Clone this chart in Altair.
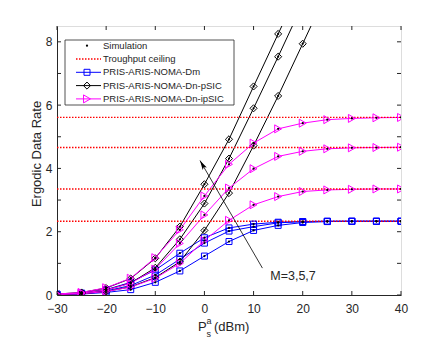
import altair as alt
import pandas as pd

# ---------------- data ----------------
x_vals = [-30, -25, -20, -15, -10, -5, 0, 5, 10, 15, 20, 25, 30, 35, 40]
M_names = ["M=3", "M=5", "M=7"]

# PRIS-ARIS-NOMA-Dm (blue)
dm_M3 = [0.01, 0.03, 0.08, 0.17, 0.40, 0.76, 1.23, 1.69, 2.04, 2.20, 2.29, 2.32, 2.33, 2.33, 2.33]
dm_M5 = [0.02, 0.05, 0.13, 0.30, 0.63, 1.13, 1.64, 2.02, 2.16, 2.28, 2.32, 2.33, 2.33, 2.33, 2.33]
dm_M7 = [0.03, 0.06, 0.17, 0.40, 0.79, 1.32, 1.81, 2.12, 2.24, 2.30, 2.32, 2.33, 2.33, 2.33, 2.33]

# PRIS-ARIS-NOMA-Dn-pSIC (black) - leaves the plot at the top
psic_M3 = [0.02, 0.04, 0.11, 0.26, 0.55, 1.05, 2.04, 3.22, 4.72, 6.29, 7.94, 9.60, None, None, None]
psic_M5 = [0.02, 0.06, 0.16, 0.38, 0.86, 1.76, 2.89, 4.31, 5.90, 7.53, 9.20, None, None, None, None]
psic_M7 = [0.03, 0.08, 0.22, 0.52, 1.16, 2.16, 3.50, 4.92, 6.59, 8.25, 9.90, None, None, None, None]

# PRIS-ARIS-NOMA-Dn-ipSIC (magenta)
ipsic_M3 = [0.02, 0.04, 0.11, 0.25, 0.53, 1.00, 1.72, 2.36, 2.85, 3.11, 3.27, 3.32, 3.34, 3.35, 3.35]
ipsic_M5 = [0.02, 0.06, 0.16, 0.37, 0.82, 1.63, 2.53, 3.38, 3.99, 4.38, 4.54, 4.62, 4.65, 4.66, 4.67]
ipsic_M7 = [0.03, 0.08, 0.23, 0.53, 1.18, 2.06, 3.13, 4.13, 4.80, 5.25, 5.43, 5.54, 5.58, 5.60, 5.61]

ceilings = [2.33, 3.35, 4.66, 5.61]

x_ticks = [-30, -20, -10, 0, 10, 20, 30, 40]
y_ticks = [0, 1, 2, 3, 4, 5, 6, 7, 8]
x_domain = [-30, 40]
y_domain = [0, 8.5]

legend_labels = ["Simulation", "Troughput ceiling", "PRIS-ARIS-NOMA-Dm",
                 "PRIS-ARIS-NOMA-Dn-pSIC", "PRIS-ARIS-NOMA-Dn-ipSIC"]

# annotation arrow (data units)
arrow_tail = (11.8, 0.85)
arrow_head = (-0.9, 4.25)
arrow_text = "M=3,5,7"
arrow_text_pos = (13.4, 0.6)

# ---------------- build tables ----------------
families = {
    "Dm": [dm_M3, dm_M5, dm_M7],
    "pSIC": [psic_M3, psic_M5, psic_M7],
    "ipSIC": [ipsic_M3, ipsic_M5, ipsic_M7],
}
rows = []
for fam, series in families.items():
    for m, vals in zip(M_names, series):
        for xv, yv in zip(x_vals, vals):
            if yv is not None:
                rows.append({"x": xv, "y": yv, "fam": fam, "M": m})
df = pd.DataFrame(rows)

W, H = 344, 269
AXC = "#262626"
FONT = "Liberation Sans"
BLUE, BLACK, MAG, RED = "#0000FF", "#000000", "#FF00FF", "#FF0000"

xs = alt.Scale(domain=x_domain, nice=False, zero=False)
ys = alt.Scale(domain=y_domain, nice=False, zero=False)

x_axis = alt.Axis(values=x_ticks, title=None, grid=False, tickSize=0,
                  labelPadding=8, labelFontSize=12, labelFont=FONT,
                  labelColor=AXC, domainColor=AXC, format="d",
                  labelFlush=False, labelOverlap=False)
y_axis = alt.Axis(values=y_ticks, title=None, grid=False, tickSize=0,
                  labelPadding=5, labelFontSize=12, labelFont=FONT,
                  labelColor=AXC, domainColor=AXC, format="d",
                  labelFlush=False, labelOverlap=False)

layers = []

# lines
styles = {
    "Dm": (BLUE, "square", 36),
    "pSIC": (BLACK, "diamond", 50),
    "ipSIC": (MAG, "triangle-right", 64),
}
first = True
for fam in ["Dm", "pSIC", "ipSIC"]:
    col, shp, sz = styles[fam]
    sub = df[df.fam == fam]
    if first:
        enc_x = alt.X("x:Q", scale=xs, axis=x_axis)
        enc_y = alt.Y("y:Q", scale=ys, axis=y_axis)
        first = False
    else:
        enc_x = alt.X("x:Q", scale=xs)
        enc_y = alt.Y("y:Q", scale=ys)
    layers.append(alt.Chart(sub).mark_line(color=col, strokeWidth=1, clip=True)
                  .encode(x=enc_x, y=enc_y, detail="M:N", order="x:Q"))

# ceilings
cdf = pd.DataFrame({"c": ceilings})
layers.append(alt.Chart(cdf).mark_rule(color=RED, strokeDash=[1.5, 1.5], strokeWidth=1.3)
              .encode(x=alt.value(0), x2=alt.value(W), y=alt.Y("c:Q", scale=ys)))

# markers
for fam in ["Dm", "pSIC", "ipSIC"]:
    col, shp, sz = styles[fam]
    sub = df[df.fam == fam]
    layers.append(alt.Chart(sub).mark_point(shape=shp, filled=False, color=col, size=sz,
                                            strokeWidth=1, opacity=1, clip=True)
                  .encode(x=alt.X("x:Q", scale=xs), y=alt.Y("y:Q", scale=ys)))
# simulation dots
layers.append(alt.Chart(df).mark_circle(color="black", size=5, opacity=1, clip=True)
              .encode(x=alt.X("x:Q", scale=xs), y=alt.Y("y:Q", scale=ys)))

# inward ticks (MATLAB style box)
xt = pd.DataFrame({"t": x_ticks})
yt = pd.DataFrame({"t": y_ticks})
TL = 4
layers.append(alt.Chart(xt).mark_rule(color=AXC, strokeWidth=1)
              .encode(x=alt.X("t:Q", scale=xs), y=alt.value(H), y2=alt.value(H - TL)))
layers.append(alt.Chart(xt).mark_rule(color=AXC, strokeWidth=1)
              .encode(x=alt.X("t:Q", scale=xs), y=alt.value(0), y2=alt.value(TL)))
layers.append(alt.Chart(yt).mark_rule(color=AXC, strokeWidth=1)
              .encode(y=alt.Y("t:Q", scale=ys), x=alt.value(0), x2=alt.value(TL)))
layers.append(alt.Chart(yt).mark_rule(color=AXC, strokeWidth=1)
              .encode(y=alt.Y("t:Q", scale=ys), x=alt.value(W), x2=alt.value(W - TL)))

# arrow annotation
adf = pd.DataFrame({"x0": [arrow_tail[0]], "y0": [arrow_tail[1]],
                    "x1": [arrow_head[0]], "y1": [arrow_head[1]]})
layers.append(alt.Chart(adf).mark_rule(color=BLACK, strokeWidth=0.8)
              .encode(x=alt.X("x0:Q", scale=xs), y=alt.Y("y0:Q", scale=ys),
                      x2="x1:Q", y2="y1:Q"))
layers.append(alt.Chart(adf).mark_point(shape="M0,0 L0.5,2 L0,1.6 L-0.5,2 Z", filled=True,
                                        color=BLACK, size=90, angle=330, opacity=1)
              .encode(x=alt.X("x1:Q", scale=xs), y=alt.Y("y1:Q", scale=ys)))
tdf = pd.DataFrame({"x": [arrow_text_pos[0]], "y": [arrow_text_pos[1]], "t": [arrow_text]})
layers.append(alt.Chart(tdf).mark_text(align="left", baseline="middle", fontSize=12.5,
                                       font=FONT, color=AXC)
              .encode(x=alt.X("x:Q", scale=xs), y=alt.Y("y:Q", scale=ys), text="t:N"))

# axis titles as text (sub/superscripts)
one = pd.DataFrame({"k": [0]})
def txt(s, x, y, size, **kw):
    return alt.Chart(one).mark_text(text=s, fontSize=size, font=FONT, color=AXC, **kw).encode(
        x=alt.value(x), y=alt.value(y))

layers.append(txt("P", 141, 305, 13, align="left", baseline="alphabetic"))
layers.append(txt("a", 149.5, 298, 9, align="left", baseline="alphabetic"))
layers.append(txt("s", 149.5, 311, 9, align="left", baseline="alphabetic"))
layers.append(txt("(dBm)", 157, 305, 13, align="left", baseline="alphabetic"))
layers.append(txt("Ergodic Data Rate", -16, 128, 13, align="center",
                  baseline="alphabetic", angle=270))

# legend
LX0, LX1, LY0, LY1 = 8, 177, 14, 79
layers.append(alt.Chart(one).mark_rect(fill="white", stroke=AXC, strokeWidth=0.8)
              .encode(x=alt.value(LX0), x2=alt.value(LX1), y=alt.value(LY0), y2=alt.value(LY1)))
ly = [19.7 + 13.3 * i for i in range(len(legend_labels))]
sx0, sx1, sxm, tx = 19, 44, 30, 46
# simulation
layers.append(alt.Chart(one).mark_circle(color="black", size=5, opacity=1)
              .encode(x=alt.value(sxm), y=alt.value(ly[0])))
# ceiling
layers.append(alt.Chart(one).mark_rule(color=RED, strokeDash=[1.5, 1.5], strokeWidth=1.3)
              .encode(x=alt.value(sx0), x2=alt.value(sx1), y=alt.value(ly[1])))
for i, fam in zip([2, 3, 4], ["Dm", "pSIC", "ipSIC"]):
    col, shp, sz = styles[fam]
    layers.append(alt.Chart(one).mark_rule(color=col, strokeWidth=1)
                  .encode(x=alt.value(sx0), x2=alt.value(sx1), y=alt.value(ly[i])))
    layers.append(alt.Chart(one).mark_point(shape=shp, filled=False, color=col, size=sz,
                                            strokeWidth=1, opacity=1)
                  .encode(x=alt.value(sxm), y=alt.value(ly[i])))
for i, lab in enumerate(legend_labels):
    layers.append(txt(lab, tx, ly[i], 9.5, align="left", baseline="middle"))

chart = alt.layer(*layers).properties(
    width=W, height=H,
    padding={"left": 49, "top": 18, "right": 34, "bottom": 43},
    autosize=alt.AutoSizeParams(type="none"),
).configure_view(stroke=AXC, strokeWidth=1).configure(background="white")

chart.save("out.html", embed_options={"renderer": "svg", "actions": False})
